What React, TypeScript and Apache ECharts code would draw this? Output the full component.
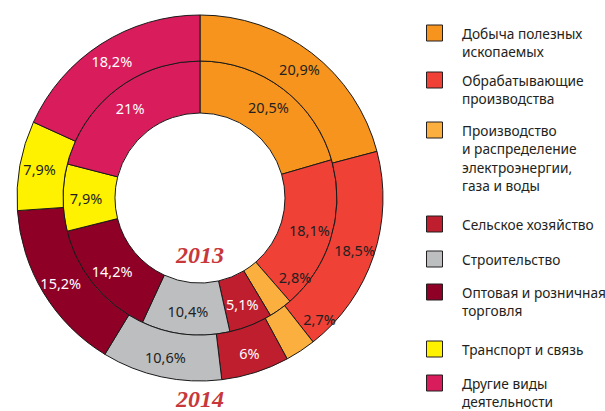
import React, { useEffect, useRef } from 'react';
import * as echarts from 'echarts';

const categories = [
  'Добыча полезных\nископаемых',
  'Обрабатывающие\nпроизводства',
  'Производство\nи распределение\nэлектроэнергии,\nгаза и воды',
  'Сельское хозяйство',
  'Строительство',
  'Оптовая и розничная\nторговля',
  'Транспорт и связь',
  'Другие виды\nдеятельности',
];
const values2013 = [20.5, 18.1, 2.8, 5.1, 10.4, 14.2, 7.9, 21];
const values2014 = [20.9, 18.5, 2.7, 6, 10.6, 15.2, 7.9, 18.2];
const yearLabels = ['2013', '2014'];

const colors = ['#F7941D', '#EF4136', '#FBAF3F', '#BE1E2D', '#BCBEC0', '#8F0026', '#FFF200', '#D91C5C'];
const whiteText = [false, false, false, true, false, true, false, true];
// shifts for labels of thin slices, moved onto the neighbouring slice
const labelShift2013: Record<number, [number, number]> = { 2: [28, -13] };
const labelShift2014: Record<number, [number, number]> = { 2: [30, -15] };
const legendFirstLineY = [33, 80, 130, 224, 259, 292, 349, 383];

const CX = 200;
const CY = 198;
const fmt = (v: number) => String(v).replace('.', ',') + '%';

function buildSeries(values: number[], radius: [number, number], shifts: Record<number, [number, number]>) {
  return {
    type: 'pie',
    center: [CX, CY],
    radius,
    startAngle: 90,
    clockwise: true,
    avoidLabelOverlap: false,
    silent: true,
    label: {
      show: true,
      position: 'inside',
      fontFamily: 'Noto Sans',
      fontSize: 14.5,
      formatter: (p: any) => fmt(p.value),
    },
    labelLine: { show: false },
    labelLayout: (p: any) => {
      const s = shifts[p.dataIndex];
      return s ? { dx: s[0], dy: s[1] } : {};
    },
    itemStyle: { borderColor: '#1a1a1a', borderWidth: 1 },
    data: values.map((v, i) => ({
      name: categories[i],
      value: v,
      itemStyle: { color: colors[i] },
      label: { color: whiteText[i] ? '#ffffff' : '#231F20' },
    })),
  };
}

export default function App() {
  const ref = useRef<HTMLDivElement>(null);
  useEffect(() => {
    if (!ref.current) return;
    const chart = echarts.init(ref.current, undefined, { renderer: 'svg' });
    const legendGraphics: any[] = [];
    categories.forEach((name, i) => {
      const y = legendFirstLineY[i];
      legendGraphics.push({
        type: 'rect',
        shape: { x: 426.5, y: y - 8, width: 16, height: 16 },
        style: { fill: colors[i], stroke: '#231F20', lineWidth: 1 },
      });
      legendGraphics.push({
        type: 'text',
        x: 462,
        y: y - 9.25,
        style: {
          text: name,
          fontFamily: 'Noto Sans',
          fontSize: 13.7,
          lineHeight: 18.5,
          fill: '#231F20',
          verticalAlign: 'top',
          align: 'left',
        },
      });
    });
    const yearStyle = {
      fontFamily: 'Liberation Serif',
      fontStyle: 'italic',
      fontWeight: 'bold',
      fontSize: 24,
      lineHeight: 18,
      fill: '#C8373A',
      align: 'center',
      verticalAlign: 'middle',
    };
    chart.setOption({
      animation: false,
      series: [
        buildSeries(values2013, [85, 137], labelShift2013),
        buildSeries(values2014, [137, 183], labelShift2014),
      ],
      graphic: [
        { type: 'text', x: CX, y: 255, style: { ...yearStyle, text: yearLabels[0] } },
        { type: 'text', x: CX, y: 399, style: { ...yearStyle, text: yearLabels[1] } },
        ...legendGraphics,
      ],
    });
    return () => chart.dispose();
  }, []);
  return (
    <div
      ref={ref}
      style={{ position: 'fixed', left: 0, top: 0, width: 605, height: 411, background: '#ffffff' }}
    />
  );
}
